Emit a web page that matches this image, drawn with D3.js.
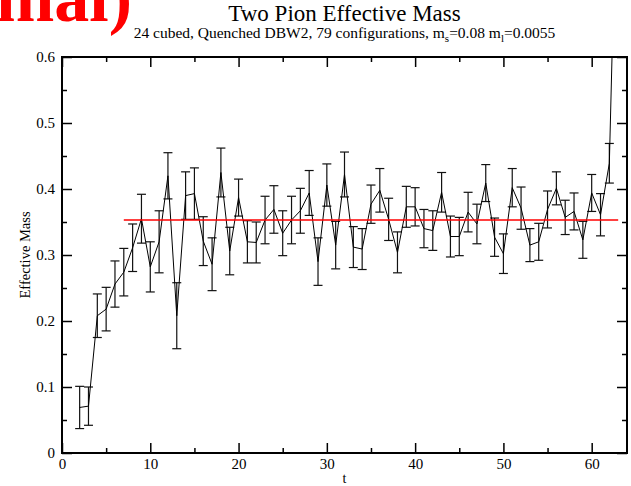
<!DOCTYPE html>
<html>
<head>
<meta charset="utf-8">
<script src="https://cdn.jsdelivr.net/npm/d3@7"></script>
<style>
  body { margin: 0; background: #fff; }
  svg text { font-family: "Liberation Serif", "DejaVu Serif", serif; }
</style>
</head>
<body>
<div id="chart"></div>
<script>
// time slices and effective mass
const tValues = [2, 3, 4, 5, 6, 7, 8, 9, 10, 11, 12, 13, 14, 15, 16, 17, 18, 19, 20, 21, 22,
  23, 24, 25, 26, 27, 28, 29, 30, 31, 32, 33, 34, 35, 36, 37, 38, 39, 40, 41, 42,
  43, 44, 45, 46, 47, 48, 49, 50, 51, 52, 53, 54, 55, 56, 57, 58, 59, 60, 61, 62, 63];
const massValues = [0.069, 0.071, 0.208, 0.218, 0.256, 0.274, 0.311, 0.355, 0.282, 0.320, 0.420,
  0.208, 0.390, 0.393, 0.321, 0.286, 0.425, 0.306, 0.387, 0.320, 0.319,
  0.353, 0.369, 0.333, 0.353, 0.367, 0.394, 0.290, 0.406, 0.315, 0.422,
  0.312, 0.309, 0.377, 0.398, 0.354, 0.304, 0.373, 0.373, 0.340, 0.337,
  0.395, 0.328, 0.328, 0.365, 0.347, 0.409, 0.327, 0.302, 0.402, 0.371,
  0.315, 0.320, 0.369, 0.401, 0.357, 0.366, 0.323, 0.394, 0.361, 0.439, 0.97];
const errValues = [0.032, 0.029, 0.033, 0.033, 0.035, 0.036, 0.036, 0.037, 0.038, 0.047, 0.035,
  0.050, 0.036, 0.039, 0.037, 0.040, 0.037, 0.036, 0.028, 0.032, 0.031,
  0.036, 0.036, 0.034, 0.036, 0.034, 0.034, 0.036, 0.032, 0.036, 0.034,
  0.031, 0.031, 0.029, 0.033, 0.032, 0.031, 0.031, 0.029, 0.029, 0.030,
  0.030, 0.031, 0.029, 0.030, 0.030, 0.028, 0.029, 0.030, 0.029, 0.032,
  0.025, 0.028, 0.028, 0.025, 0.026, 0.028, 0.028, 0.028, 0.032, 0.030, 0.1];

// plateau fit
const fitValue = 0.353;
const fitRange = [7, 63];

const xTicks = [0, 10, 20, 30, 40, 50, 60];
const yTicks = [0, 0.1, 0.2, 0.3, 0.4, 0.5, 0.6];

const width = 631, height = 486;
const margin = {top: 57, right: 4, bottom: 33, left: 62};
const serif = '"Liberation Serif", "DejaVu Serif", serif';

const svg = d3.select('#chart').append('svg')
    .attr('width', width)
    .attr('height', height);

const x = d3.scaleLinear().domain([0, 64]).range([margin.left, width - margin.right]);
const y = d3.scaleLinear().domain([0, 0.6]).range([height - margin.bottom, margin.top]);

const data = tValues.map((t, i) => ({t: t, m: massValues[i], e: errValues[i]}));

svg.append('clipPath').attr('id', 'plot-clip')
  .append('rect')
    .attr('x', x(0)).attr('y', y(0.6))
    .attr('width', x(64) - x(0)).attr('height', y(0) - y(0.6));

const plot = svg.append('g').attr('clip-path', 'url(#plot-clip)');

// error bars
const capW = 4.5;
const bars = plot.append('g')
    .attr('stroke', '#111')
    .attr('stroke-width', 1.2)
  .selectAll('g')
  .data(data)
  .join('g');

bars.append('line')
    .attr('x1', d => x(d.t)).attr('x2', d => x(d.t))
    .attr('y1', d => y(d.m - d.e)).attr('y2', d => y(d.m + d.e));
bars.append('line')
    .attr('x1', d => x(d.t) - capW).attr('x2', d => x(d.t) + capW)
    .attr('y1', d => y(d.m + d.e)).attr('y2', d => y(d.m + d.e));
bars.append('line')
    .attr('x1', d => x(d.t) - capW).attr('x2', d => x(d.t) + capW)
    .attr('y1', d => y(d.m - d.e)).attr('y2', d => y(d.m - d.e));

// data line
plot.append('path')
    .datum(data)
    .attr('fill', 'none')
    .attr('stroke', '#000')
    .attr('stroke-width', 1)
    .attr('d', d3.line().x(d => x(d.t)).y(d => y(d.m)));

// fit line
plot.append('line')
    .attr('x1', x(fitRange[0])).attr('x2', x(fitRange[1]))
    .attr('y1', y(fitValue)).attr('y2', y(fitValue))
    .attr('stroke', 'red')
    .attr('stroke-width', 1.5);

// axes, ticks inward on all four sides
function styleAxis(g) {
  g.attr('font-family', serif);
  g.selectAll('.domain').remove();
  g.selectAll('line').attr('stroke', '#000').attr('stroke-width', 1.5);
  g.selectAll('text').attr('font-size', 15).attr('fill', '#000').attr('font-family', serif);
}

const xMinor = d3.range(0, 65, 5).filter(v => v % 10 !== 0);
const yMinor = d3.range(0.05, 0.6, 0.1);

svg.append('g')
    .attr('transform', `translate(0,${y(0)})`)
    .call(d3.axisBottom(x).tickValues(xTicks).tickSize(-10).tickPadding(5).tickFormat(d3.format('d')))
    .call(styleAxis);
svg.append('g')
    .attr('transform', `translate(0,${y(0)})`)
    .call(d3.axisBottom(x).tickValues(xMinor).tickSize(-5).tickFormat(''))
    .call(styleAxis);
svg.append('g')
    .attr('transform', `translate(0,${y(0.6)})`)
    .call(d3.axisTop(x).tickValues(xTicks).tickSize(-10).tickFormat(''))
    .call(styleAxis);
svg.append('g')
    .attr('transform', `translate(0,${y(0.6)})`)
    .call(d3.axisTop(x).tickValues(xMinor).tickSize(-5).tickFormat(''))
    .call(styleAxis);

svg.append('g')
    .attr('transform', `translate(${x(0)},0)`)
    .call(d3.axisLeft(y).tickValues(yTicks).tickSize(-10).tickPadding(7)
      .tickFormat(d => d === 0 ? '0' : d3.format('.1f')(d)))
    .call(styleAxis);
svg.append('g')
    .attr('transform', `translate(${x(0)},0)`)
    .call(d3.axisLeft(y).tickValues(yMinor).tickSize(-5).tickFormat(''))
    .call(styleAxis);
svg.append('g')
    .attr('transform', `translate(${x(64)},0)`)
    .call(d3.axisRight(y).tickValues(yTicks).tickSize(-10).tickFormat(''))
    .call(styleAxis);
svg.append('g')
    .attr('transform', `translate(${x(64)},0)`)
    .call(d3.axisRight(y).tickValues(yMinor).tickSize(-5).tickFormat(''))
    .call(styleAxis);

// frame
svg.append('rect')
    .attr('x', x(0)).attr('y', y(0.6))
    .attr('width', x(64) - x(0)).attr('height', y(0) - y(0.6))
    .attr('fill', 'none')
    .attr('stroke', '#000')
    .attr('stroke-width', 2);

// titles
const cx = (x(0) + x(64)) / 2;
svg.append('text')
    .attr('x', cx).attr('y', 21)
    .attr('text-anchor', 'middle')
    .attr('font-size', 23)
    .text('Two Pion Effective Mass');

const sub = svg.append('text')
    .attr('x', cx).attr('y', 38)
    .attr('text-anchor', 'middle')
    .attr('font-size', 15.5);
sub.append('tspan').text('24 cubed, Quenched DBW2, 79 configurations, m');
sub.append('tspan').attr('font-size', 11).attr('dy', 4).text('s');
sub.append('tspan').attr('dy', -4).text('=0.08 m');
sub.append('tspan').attr('font-size', 11).attr('dy', 4).text('l');
sub.append('tspan').attr('dy', -4).text('=0.0055');

svg.append('text')
    .attr('x', cx).attr('y', 483)
    .attr('text-anchor', 'middle')
    .attr('font-size', 14)
    .text('t');

svg.append('text')
    .attr('transform', `translate(30,${(y(0) + y(0.6)) / 2}) rotate(-90)`)
    .attr('text-anchor', 'middle')
    .attr('font-size', 14.5)
    .text('Effective Mass');

// clipped red heading left over at the top
svg.append('text')
    .attr('x', -4).attr('y', 21)
    .attr('font-size', 70)
    .attr('font-weight', 'bold')
    .attr('fill', 'red')
    .text('mal)');
</script>
</body>
</html>
